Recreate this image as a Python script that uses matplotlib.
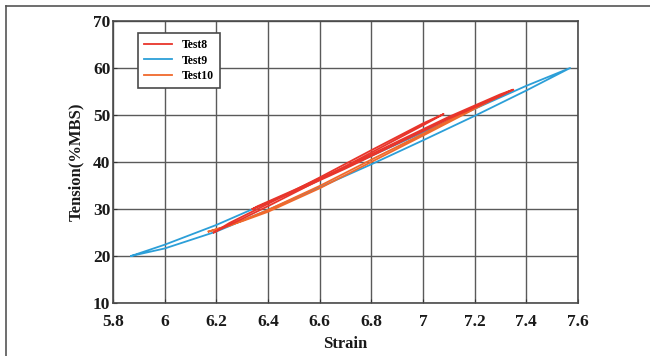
import numpy as np
import matplotlib.pyplot as plt
from matplotlib.lines import Line2D

# Test8: two load cycles (25-50 and 30-55 %MBS), loading branch then unloading branch
test8_a_x = [6.19, 6.3, 6.4, 6.6, 6.8, 7.0, 7.08, 7.0, 6.8, 6.6, 6.4, 6.25, 6.19]
test8_a_y = [25.0, 27.9, 30.6, 36.2, 42.0, 47.8, 50.2, 48.2, 42.5, 36.7, 31.1, 27.0, 25.0]
test8_b_x = [6.34, 6.5, 6.7, 6.9, 7.1, 7.3, 7.35, 7.3, 7.1, 6.9, 6.7, 6.5, 6.36, 6.34]
test8_b_y = [30.0, 33.6, 38.6, 43.9, 49.2, 54.0, 55.4, 54.4, 49.6, 44.3, 39.0, 34.0, 30.6, 30.0]

# Test9: 20-60 %MBS cycle
test9_x = [5.87, 6.0, 6.2, 6.4, 6.6, 6.8, 7.0, 7.2, 7.4, 7.57,
           7.4, 7.2, 7.0, 6.8, 6.6, 6.4, 6.2, 6.0, 5.87]
test9_y = [20.0, 21.6, 25.2, 29.8, 34.6, 39.5, 44.6, 49.8, 55.2, 60.0,
           56.2, 51.3, 46.3, 41.3, 36.3, 31.4, 26.6, 22.4, 20.0]

# Test10: 25-55 %MBS cycle
test10_x = [6.17, 6.3, 6.4, 6.6, 6.8, 7.0, 7.2, 7.34,
            7.2, 7.0, 6.8, 6.6, 6.4, 6.25, 6.17]
test10_y = [25.2, 27.4, 29.4, 34.4, 40.0, 45.6, 51.3, 55.2,
            51.7, 46.0, 40.5, 34.9, 29.8, 26.4, 25.2]

x_ticks = [5.8, 6.0, 6.2, 6.4, 6.6, 6.8, 7.0, 7.2, 7.4, 7.6]
x_tick_labels = ['5.8', '6', '6.2', '6.4', '6.6', '6.8', '7', '7.2', '7.4', '7.6']
y_ticks = [10, 20, 30, 40, 50, 60, 70]

red = '#e8352b'
blue = '#2c9fd8'
orange = '#f0692c'

plt.rcParams['font.family'] = 'Liberation Serif'
plt.rcParams['font.weight'] = 'bold'

fig = plt.figure(figsize=(6.5, 3.56), dpi=100)
ax = fig.add_axes([0.174, 0.149, 0.715, 0.792])

ax.plot(test8_a_x, test8_a_y, color=red, lw=1.3, label='Test8', zorder=4)
ax.plot(test8_b_x, test8_b_y, color=red, lw=1.3, zorder=4)
ax.plot(test9_x, test9_y, color=blue, lw=1.3, label='Test9', zorder=3)
ax.plot(test10_x, test10_y, color=orange, lw=1.3, label='Test10', zorder=3)

ax.set_xlim(5.8, 7.6)
ax.set_ylim(10, 70)
ax.set_xticks(x_ticks)
ax.set_xticklabels(x_tick_labels)
ax.set_yticks(y_ticks)
ax.tick_params(direction='in', length=3, width=0.8, colors='#333333',
               labelsize=12.5, labelcolor='#1a1a1a')
ax.tick_params(axis='x', pad=8)
ax.tick_params(axis='y', pad=2)
ax.grid(True, color='#5a5a5a', lw=1.0)
ax.set_axisbelow(True)
for s in ax.spines.values():
    s.set_color('#4a4a4a')
    s.set_linewidth(1.2)

ax.set_xlabel('Strain', fontsize=12, fontweight='bold', color='#1a1a1a', labelpad=4)
ax.set_ylabel('Tension(%MBS)', fontsize=12, fontweight='bold', color='#1a1a1a', labelpad=6)

leg = ax.legend(loc='upper left', bbox_to_anchor=(0.054, 0.957), borderaxespad=0,
                fancybox=False, framealpha=1, edgecolor='#4a4a4a', fontsize=8.5,
                handlelength=2.4, handletextpad=0.8, labelspacing=0.3,
                borderpad=0.5)
leg.get_frame().set_linewidth(1.2)

# outer border lines along the top and left of the figure
fig.add_artist(Line2D([6 / 650, 1.0], [1 - 6 / 356, 1 - 6 / 356],
                      transform=fig.transFigure, color='#555555', lw=1.2))
fig.add_artist(Line2D([6 / 650, 6 / 650], [0.0, 1 - 6 / 356],
                      transform=fig.transFigure, color='#555555', lw=1.2))

fig.savefig('out.png', dpi=100)
